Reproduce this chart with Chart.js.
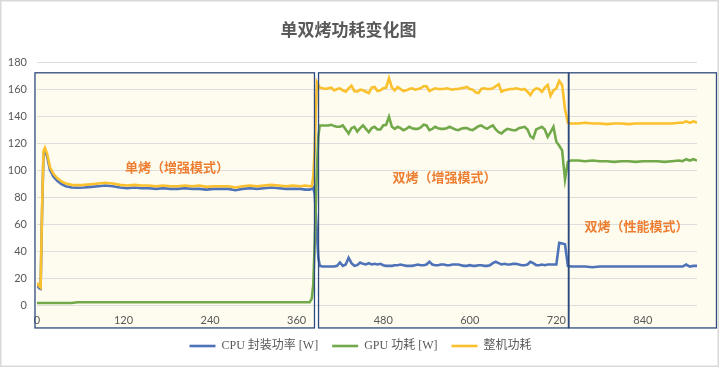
<!DOCTYPE html>
<html>
<head>
<meta charset="utf-8">
<script src="https://cdn.jsdelivr.net/npm/chart.js@4.4.0/dist/chart.umd.min.js"></script>
<style>
  html, body { margin: 0; padding: 0; background: #fff; }
  #wrap { width: 720px; height: 368px; }
</style>
</head>
<body>
<div id="wrap"><canvas id="chart" width="720" height="368"></canvas></div>
<script>
// time (s)
const times = [
  0, 3, 5, 7, 9, 11, 14, 18, 23, 28, 34, 40, 48, 56, 65, 75, 85, 95, 105, 115,
  125, 135, 145, 155, 165, 175, 185, 195, 205, 215, 225, 235, 245, 255, 265, 275, 285, 295, 305, 315,
  325, 335, 345, 355, 365, 372, 378, 381, 383, 385, 388, 390, 392,
  396, 400, 404, 408, 412, 416, 420, 424, 428, 432, 436, 440, 444, 448, 452, 456, 460, 464, 468, 472,
  476, 480, 484, 488, 492, 496, 500, 504, 508, 512, 516, 520, 524, 528, 532, 536, 540, 544, 548, 552,
  556, 560, 564, 568, 572, 576, 580, 584, 588, 592, 596, 600, 604, 608, 612, 616, 620, 624, 628, 632,
  636, 640, 644, 648, 652, 656, 660, 664, 668, 672, 676, 680, 684, 688, 692, 696, 700, 704, 708, 712,
  716, 720, 724, 728, 732, 736,
  740, 750, 760, 770, 780, 790, 800, 810, 820, 830, 840, 850, 860, 870, 880, 890, 895, 900, 905, 910, 915
];

const cpuPower = [
  15, 12.5, 12, 68, 112, 114.5, 110, 100, 95, 92, 89.5, 88, 87, 86.8, 87, 87.5, 88, 88.5, 88, 87,
  86.5, 87, 86.5, 86.5, 86, 86.5, 86, 86, 86.5, 86, 86, 85.5, 86, 86, 86, 85, 86, 86.5, 86, 86.5,
  87, 86.5, 86, 86, 86, 85.5, 85.5, 86, 87, 82, 55, 35, 29,
  28.5, 28.5, 28.5, 28.5, 28.5, 29, 31.5, 29, 30, 35, 31, 29, 29.5, 31.5, 30.5, 30, 31, 30, 30.5, 30,
  30.5, 29.5, 29, 29, 29, 29.5, 29.5, 30, 29.5, 29, 29, 29, 29.5, 30, 29.5, 29.5, 30, 32, 30, 29.5,
  29.5, 30, 30, 29.5, 29.5, 30, 30, 30, 29.5, 29, 29, 29.5, 29, 29, 29.5, 29.5, 29, 29, 29.5, 31,
  32, 31, 30, 30.5, 30, 30, 30.5, 30.5, 30, 29.5, 29.5, 30, 32, 31, 29.5, 29.5, 30, 29.5, 30, 30,
  30, 30, 46, 45.5, 45, 29,
  28.5, 28.5, 28.5, 28, 28.5, 28.5, 28.5, 28.5, 28.5, 28.5, 28.5, 28.5, 28.5, 28.5, 28.5, 28.5, 28.5, 30, 28.5, 29, 29
];

const gpuPower = [
  1.5, 1.5, 1.5, 1.5, 1.5, 1.5, 1.5, 1.5, 1.5, 1.5, 1.5, 1.5, 1.5, 2, 2, 2, 2, 2, 2, 2,
  2, 2, 2, 2, 2, 2, 2, 2, 2, 2, 2, 2, 2, 2, 2, 2, 2, 2, 2, 2,
  2, 2, 2, 2, 2, 2, 2, 5, 15, 45, 100, 125, 133,
  133, 133, 133, 133.5, 132.5, 132, 132, 133, 130, 127, 131, 132, 128.5, 131, 133, 130.5, 128, 131, 132, 130,
  130, 133, 133.5, 139.5, 132, 130.5, 132, 131, 129.5, 130.5, 132, 131, 130.5, 130.5, 131.5, 133.5, 133, 129.5, 130.5, 132,
  131, 130.5, 130.5, 131, 132, 131, 130, 129.5, 130.5, 131, 131, 130, 129.5, 131, 132.5, 133, 131.5, 130.5, 132, 133,
  130, 128, 127, 129, 130.5, 130, 129.5, 129.5, 131, 131.5, 132, 130, 125, 123.5, 130, 131, 132, 130, 124.5, 128,
  132, 121, 118, 114.5, 93, 106,
  107, 107, 106.5, 107, 106.5, 106.5, 106, 106.5, 106.5, 106, 106.5, 106.5, 106.5, 106, 106.5, 107, 106.5, 108, 107, 108, 107
];

const totalPower = [
  16.5, 14, 13, 70, 114, 116.5, 112, 102, 97, 94, 91.5, 90, 89, 88.8, 89, 89.5, 90, 90.5, 90, 89,
  88.5, 89, 88.5, 88.5, 88, 88.5, 88, 88, 88.5, 88, 88.5, 87.5, 88, 88, 88, 87, 88, 88.5, 88, 88.5,
  89, 88.5, 88, 88.5, 88, 88.5, 88, 88, 95, 115, 165, 163, 161,
  160.5, 160, 160.5, 161, 159, 160, 160.5, 159, 158, 160.5, 162.5, 158.5, 158, 159.5, 159, 158, 157, 161, 161.5, 158.5,
  159, 160.5, 161, 168, 161, 159, 161.5, 160, 158.5, 159, 160, 160.5, 159.5, 160, 160.5, 162, 162, 158.5, 159.5, 160.5,
  160, 160, 160, 160.5, 160, 159.5, 160, 160, 160.5, 161, 161.5, 160, 159.5, 157.5, 157, 160, 160.5, 160, 160, 160.5,
  162, 163.5, 158, 159, 159.5, 160, 160, 160.5, 160, 159.5, 160, 158, 155.5, 159, 160.5, 160, 158, 161, 163, 155,
  159, 160.5, 166, 163, 145, 135,
  134.5, 134.5, 135, 134.5, 134.5, 134, 134.5, 134.5, 134, 134.5, 134.5, 134.5, 134.5, 134.5, 134.5, 135, 135, 136, 135, 136, 135
];

const seriesNames = ['CPU 封装功率 [W]', 'GPU 功耗 [W]', '整机功耗'];
const seriesColors = ['#4f73b8', '#72a94a', '#fbc02d'];

// test phases: start / end time and label
const phaseNames = ['单烤（增强模式）', '双烤（增强模式）', '双烤（性能模式）'];
const phaseStart = [-2.8, 390.3, 737.5];
const phaseEnd = [384.7, 736.7, 942];

const toPoints = vals => vals.map((v, i) => ({ x: times[i], y: v }));

const phasePlugin = {
  id: 'phases',
  afterLayout(chart) {
    // legend sits centred on the whole canvas, not on the plot
    chart.legend.left += 12;
    chart.legend.right += 12;
  },
  beforeDraw(chart) {
    const { ctx, scales: { x, y } } = chart;
    ctx.save();
    ctx.fillStyle = '#fefcef';
    for (let i = 0; i < phaseNames.length; i++) {
      const l = x.getPixelForValue(phaseStart[i]);
      const r = x.getPixelForValue(phaseEnd[i]);
      const t = y.getPixelForValue(172);
      const b = y.getPixelForValue(-17);
      ctx.fillRect(l, t, r - l, b - t);
    }
    ctx.restore();
  },
  afterDatasetsDraw(chart) {
    const { ctx, scales: { x, y } } = chart;
    const labelAt = [[194, 102], [565, 94.7], [831, 58.3]];
    ctx.save();
    ctx.strokeStyle = '#2e4a7d';
    ctx.lineWidth = 1.3;
    for (let i = 0; i < phaseNames.length; i++) {
      const l = x.getPixelForValue(phaseStart[i]);
      const r = x.getPixelForValue(phaseEnd[i]);
      const t = y.getPixelForValue(172);
      const b = y.getPixelForValue(-17);
      ctx.strokeRect(l, t, r - l, b - t);
    }
    ctx.fillStyle = '#ed7d31';
    ctx.font = "bold 13px 'Noto Sans CJK SC', sans-serif";
    ctx.textAlign = 'center';
    ctx.textBaseline = 'middle';
    for (let i = 0; i < phaseNames.length; i++) {
      ctx.fillText(phaseNames[i], x.getPixelForValue(labelAt[i][0]), y.getPixelForValue(labelAt[i][1]));
    }
    ctx.restore();
  },
  afterDraw(chart) {
    const ctx = chart.ctx;
    ctx.save();
    ctx.strokeStyle = '#d9d9d9';
    ctx.lineWidth = 1.5;
    ctx.strokeRect(0.75, 0.75, 717.5, 365.5);
    ctx.restore();
  }
};

const ctx = document.getElementById('chart').getContext('2d');
const myChart = new Chart(ctx, {
  type: 'line',
  data: {
    datasets: [cpuPower, gpuPower, totalPower].map((vals, i) => ({
      label: seriesNames[i],
      data: toPoints(vals),
      borderColor: seriesColors[i],
      backgroundColor: seriesColors[i],
      borderWidth: 2.6,
      pointRadius: 0,
      pointBorderWidth: 2.6,
      tension: 0,
      order: 3 - i
    }))
  },
  options: {
    responsive: false,
    animation: false,
    layout: { padding: { left: 0, right: 23, top: 0, bottom: 6 } },
    plugins: {
      title: {
        display: true,
        text: '单双烤功耗变化图',
        color: '#595959',
        font: { family: "'Noto Sans CJK SC', sans-serif", size: 17, weight: 'bold' },
        padding: { top: 19, bottom: 22.6 }
      },
      legend: {
        position: 'bottom',
        labels: {
          usePointStyle: true,
          pointStyle: 'line',
          pointStyleWidth: 26,
          padding: 14,
          color: '#595959',
          font: { family: "'Liberation Serif', 'Noto Sans CJK SC', serif", size: 12 },
          sort: (a, b) => a.datasetIndex - b.datasetIndex
        }
      },
      tooltip: { enabled: false }
    },
    scales: {
      x: {
        type: 'linear',
        min: 0,
        max: 915,
        grid: { display: false, drawTicks: false },
        border: { display: false },
        ticks: {
          stepSize: 120,
          includeBounds: false,
          padding: 9,
          color: '#595959',
          font: { family: "'Lato', sans-serif", size: 11 }
        },
        afterFit: s => { s.height = 21; }
      },
      y: {
        min: 0,
        max: 180,
        grid: { color: '#dedede', drawTicks: false },
        border: { display: false },
        ticks: {
          stepSize: 20,
          padding: 10,
          color: '#595959',
          font: { family: "'Lato', sans-serif", size: 11 }
        },
        afterFit: s => { s.width = 37; }
      }
    }
  },
  plugins: [phasePlugin]
});
</script>
</body>
</html>
